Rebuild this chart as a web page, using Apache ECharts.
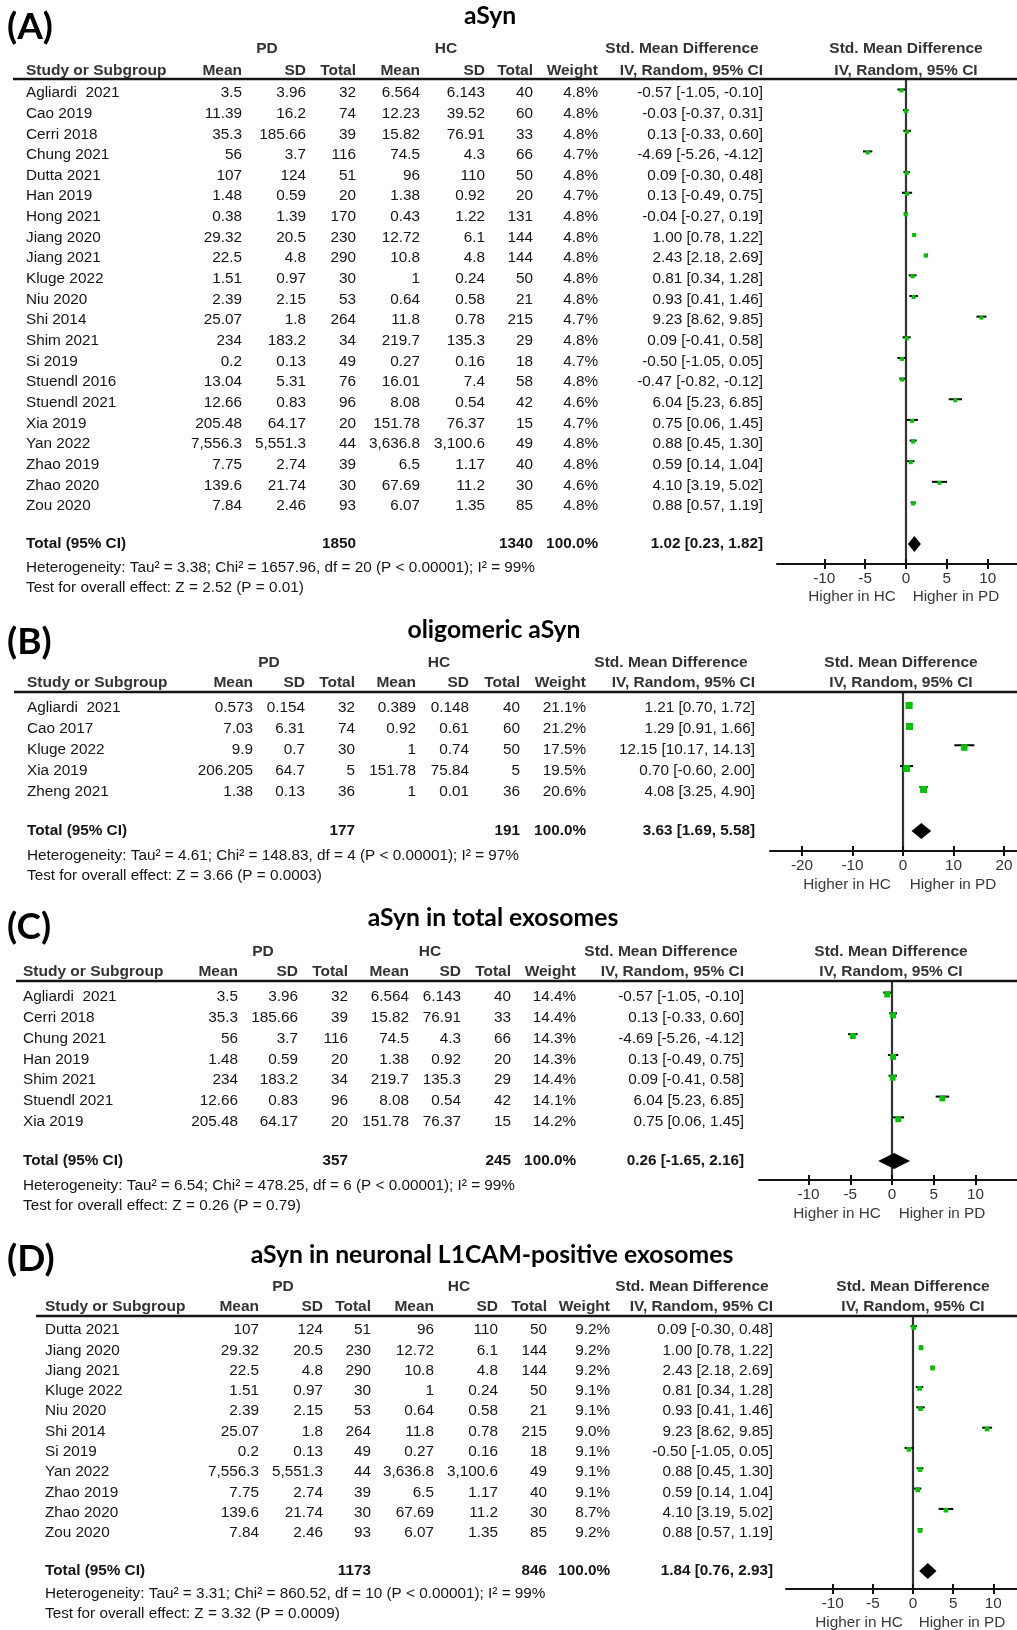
<!DOCTYPE html>
<html><head><meta charset="utf-8">
<script src="https://cdn.jsdelivr.net/npm/echarts@6/dist/echarts.min.js"></script>
<style>html,body{margin:0;padding:0;background:#fff}#c{width:1017px;height:1630px}</style>
</head><body><div id="c"></div>
<script>
// ---------------- DATA ----------------
// Panel A: aSyn
const titleA = 'aSyn';
const studiesA = ['Agliardi  2021','Cao 2019','Cerri 2018','Chung 2021','Dutta 2021','Han 2019','Hong 2021','Jiang 2020','Jiang 2021','Kluge 2022','Niu 2020','Shi 2014','Shim 2021','Si 2019','Stuendl 2016','Stuendl 2021','Xia 2019','Yan 2022','Zhao 2019','Zhao 2020','Zou 2020'];
const pdMeanA = ['3.5','11.39','35.3','56','107','1.48','0.38','29.32','22.5','1.51','2.39','25.07','234','0.2','13.04','12.66','205.48','7,556.3','7.75','139.6','7.84'];
const pdSdA = ['3.96','16.2','185.66','3.7','124','0.59','1.39','20.5','4.8','0.97','2.15','1.8','183.2','0.13','5.31','0.83','64.17','5,551.3','2.74','21.74','2.46'];
const pdNA = [32,74,39,116,51,20,170,230,290,30,53,264,34,49,76,96,20,44,39,30,93];
const hcMeanA = ['6.564','12.23','15.82','74.5','96','1.38','0.43','12.72','10.8','1','0.64','11.8','219.7','0.27','16.01','8.08','151.78','3,636.8','6.5','67.69','6.07'];
const hcSdA = ['6.143','39.52','76.91','4.3','110','0.92','1.22','6.1','4.8','0.24','0.58','0.78','135.3','0.16','7.4','0.54','76.37','3,100.6','1.17','11.2','1.35'];
const hcNA = [40,60,33,66,50,20,131,144,144,50,21,215,29,18,58,42,15,49,40,30,85];
const weightA = [4.8,4.8,4.8,4.7,4.8,4.7,4.8,4.8,4.8,4.8,4.8,4.7,4.8,4.7,4.8,4.6,4.7,4.8,4.8,4.6,4.8];
const smdA = [-0.57,-0.03,0.13,-4.69,0.09,0.13,-0.04,1.00,2.43,0.81,0.93,9.23,0.09,-0.50,-0.47,6.04,0.75,0.88,0.59,4.10,0.88];
const loA = [-1.05,-0.37,-0.33,-5.26,-0.30,-0.49,-0.27,0.78,2.18,0.34,0.41,8.62,-0.41,-1.05,-0.82,5.23,0.06,0.45,0.14,3.19,0.57];
const hiA = [-0.10,0.31,0.60,-4.12,0.48,0.75,0.19,1.22,2.69,1.28,1.46,9.85,0.58,0.05,-0.12,6.85,1.45,1.30,1.04,5.02,1.19];
const totalA = [1850, 1340, 100.0, 1.02, 0.23, 1.82];
const hetA = 'Heterogeneity: Tau² = 3.38; Chi² = 1657.96, df = 20 (P < 0.00001); I² = 99%';
const testA = 'Test for overall effect: Z = 2.52 (P = 0.01)';
const ticksA = [-10, -5, 0, 5, 10];

// Panel B: oligomeric aSyn
const titleB = 'oligomeric aSyn';
const studiesB = ['Agliardi  2021','Cao 2017','Kluge 2022','Xia 2019','Zheng 2021'];
const pdMeanB = ['0.573','7.03','9.9','206.205','1.38'];
const pdSdB = ['0.154','6.31','0.7','64.7','0.13'];
const pdNB = [32,74,30,5,36];
const hcMeanB = ['0.389','0.92','1','151.78','1'];
const hcSdB = ['0.148','0.61','0.74','75.84','0.01'];
const hcNB = [40,60,50,5,36];
const weightB = [21.1,21.2,17.5,19.5,20.6];
const smdB = [1.21,1.29,12.15,0.70,4.08];
const loB = [0.70,0.91,10.17,-0.60,3.25];
const hiB = [1.72,1.66,14.13,2.00,4.90];
const totalB = [177, 191, 100.0, 3.63, 1.69, 5.58];
const hetB = 'Heterogeneity: Tau² = 4.61; Chi² = 148.83, df = 4 (P < 0.00001); I² = 97%';
const testB = 'Test for overall effect: Z = 3.66 (P = 0.0003)';
const ticksB = [-20, -10, 0, 10, 20];

// Panel C: aSyn in total exosomes
const titleC = 'aSyn in total exosomes';
const studiesC = ['Agliardi  2021','Cerri 2018','Chung 2021','Han 2019','Shim 2021','Stuendl 2021','Xia 2019'];
const pdMeanC = ['3.5','35.3','56','1.48','234','12.66','205.48'];
const pdSdC = ['3.96','185.66','3.7','0.59','183.2','0.83','64.17'];
const pdNC = [32,39,116,20,34,96,20];
const hcMeanC = ['6.564','15.82','74.5','1.38','219.7','8.08','151.78'];
const hcSdC = ['6.143','76.91','4.3','0.92','135.3','0.54','76.37'];
const hcNC = [40,33,66,20,29,42,15];
const weightC = [14.4,14.4,14.3,14.3,14.4,14.1,14.2];
const smdC = [-0.57,0.13,-4.69,0.13,0.09,6.04,0.75];
const loC = [-1.05,-0.33,-5.26,-0.49,-0.41,5.23,0.06];
const hiC = [-0.10,0.60,-4.12,0.75,0.58,6.85,1.45];
const totalC = [357, 245, 100.0, 0.26, -1.65, 2.16];
const hetC = 'Heterogeneity: Tau² = 6.54; Chi² = 478.25, df = 6 (P < 0.00001); I² = 99%';
const testC = 'Test for overall effect: Z = 0.26 (P = 0.79)';
const ticksC = [-10, -5, 0, 5, 10];

// Panel D: aSyn in neuronal L1CAM-positive exosomes
const titleD = 'aSyn in neuronal L1CAM-positive exosomes';
const studiesD = ['Dutta 2021','Jiang 2020','Jiang 2021','Kluge 2022','Niu 2020','Shi 2014','Si 2019','Yan 2022','Zhao 2019','Zhao 2020','Zou 2020'];
const pdMeanD = ['107','29.32','22.5','1.51','2.39','25.07','0.2','7,556.3','7.75','139.6','7.84'];
const pdSdD = ['124','20.5','4.8','0.97','2.15','1.8','0.13','5,551.3','2.74','21.74','2.46'];
const pdND = [51,230,290,30,53,264,49,44,39,30,93];
const hcMeanD = ['96','12.72','10.8','1','0.64','11.8','0.27','3,636.8','6.5','67.69','6.07'];
const hcSdD = ['110','6.1','4.8','0.24','0.58','0.78','0.16','3,100.6','1.17','11.2','1.35'];
const hcND = [50,144,144,50,21,215,18,49,40,30,85];
const weightD = [9.2,9.2,9.2,9.1,9.1,9.0,9.1,9.1,9.1,8.7,9.2];
const smdD = [0.09,1.00,2.43,0.81,0.93,9.23,-0.50,0.88,0.59,4.10,0.88];
const loD = [-0.30,0.78,2.18,0.34,0.41,8.62,-1.05,0.45,0.14,3.19,0.57];
const hiD = [0.48,1.22,2.69,1.28,1.46,9.85,0.05,1.30,1.04,5.02,1.19];
const totalD = [1173, 846, 100.0, 1.84, 0.76, 2.93];
const hetD = 'Heterogeneity: Tau² = 3.31; Chi² = 860.52, df = 10 (P < 0.00001); I² = 99%';
const testD = 'Test for overall effect: Z = 3.32 (P = 0.0009)';
const ticksD = [-10, -5, 0, 5, 10];

const headerCols = ['Study or Subgroup','Mean','SD','Total','Mean','SD','Total','Weight','IV, Random, 95% CI'];

// ---------------- LAYOUT ----------------
const W = 1017;
const layouts = [
 {label:'(A)', labelY:27, titleX:490, titleY:16, h1Y:49, h2Y:71, pdX:267, hcX:446, smdX:682, plotX:906, lineY:79, lineX0:13,
  cols:[26,242,306,356,420,485,533,598,763], row0:93, step:20.65, totalY:544, hetY:568, testY:588,
  axisLeft:777, zeroX:906, ppu:8.17, axisY:564, hcLabX:852, pdLabX:956, higherY:597},
 {label:'(B)', labelY:642, titleX:494, titleY:630, h1Y:663, h2Y:683, pdX:269, hcX:439, smdX:671, plotX:901, lineY:692, lineX0:14,
  cols:[27,253,305,355,416,469,520,586,755], row0:708, step:21, totalY:831, hetY:856, testY:876,
  axisLeft:770, zeroX:903, ppu:5.05, axisY:851, hcLabX:847, pdLabX:953, higherY:885},
 {label:'(C)', labelY:927, titleX:493, titleY:918, h1Y:952, h2Y:972, pdX:263, hcX:430, smdX:661, plotX:891, lineY:981, lineX0:16,
  cols:[23,238,298,348,409,461,511,576,744], row0:997, step:20.8, totalY:1161, hetY:1186, testY:1206,
  axisLeft:759, zeroX:892, ppu:8.35, axisY:1180, hcLabX:837, pdLabX:942, higherY:1214},
 {label:'(D)', labelY:1259, titleX:492, titleY:1255, h1Y:1287, h2Y:1307, pdX:283, hcX:459, smdX:692, plotX:913, lineY:1316, lineX0:36,
  cols:[45,259,323,371,434,498,547,610,773], row0:1330, step:20.3, totalY:1571, hetY:1594, testY:1614,
  axisLeft:786, zeroX:913, ppu:8.03, axisY:1589, hcLabX:859, pdLabX:962, higherY:1623}
];

const panels = [
 {title:titleA, studies:studiesA, pdMean:pdMeanA, pdSd:pdSdA, pdN:pdNA, hcMean:hcMeanA, hcSd:hcSdA, hcN:hcNA, weight:weightA, smd:smdA, lo:loA, hi:hiA, total:totalA, het:hetA, test:testA, ticks:ticksA},
 {title:titleB, studies:studiesB, pdMean:pdMeanB, pdSd:pdSdB, pdN:pdNB, hcMean:hcMeanB, hcSd:hcSdB, hcN:hcNB, weight:weightB, smd:smdB, lo:loB, hi:hiB, total:totalB, het:hetB, test:testB, ticks:ticksB},
 {title:titleC, studies:studiesC, pdMean:pdMeanC, pdSd:pdSdC, pdN:pdNC, hcMean:hcMeanC, hcSd:hcSdC, hcN:hcNC, weight:weightC, smd:smdC, lo:loC, hi:hiC, total:totalC, het:hetC, test:testC, ticks:ticksC},
 {title:titleD, studies:studiesD, pdMean:pdMeanD, pdSd:pdSdD, pdN:pdND, hcMean:hcMeanD, hcSd:hcSdD, hcN:hcND, weight:weightD, smd:smdD, lo:loD, hi:hiD, total:totalD, het:hetD, test:testD, ticks:ticksD}
];

const FONT = '"Liberation Sans", Arial, sans-serif';
const TITLE_FONT = 'Lato, "Liberation Sans", sans-serif';
const fmt = v => (v < 0 ? '-' : '') + Math.abs(v).toFixed(2);
const fmtCI = (m, l, h) => fmt(m) + ' [' + fmt(l) + ', ' + fmt(h) + ']';

const grids = [], xAxes = [], yAxes = [], series = [], graphics = [];

function txt(text, x, y, font, align, fill) {
  return {type:'text', silent:true, style:{text, x, y, font, align:align||'left', verticalAlign:'middle', fill:fill||'#151515'}};
}

panels.forEach((d, idx) => {
  const L = layouts[idx];
  const n = d.studies.length;
  const totalRow = (L.totalY - L.row0) / L.step;
  const xmin = (L.axisLeft - L.zeroX) / L.ppu, xmax = (W - L.zeroX) / L.ppu;
  grids.push({left:L.axisLeft, top:L.lineY, width:W - L.axisLeft, height:L.axisY - L.lineY});
  const labelStyle = {customValues:d.ticks, margin:7, color:'#333', fontSize:15.3, fontFamily:FONT};
  xAxes.push({type:'value', gridIndex:idx, min:xmin, max:xmax, position:'bottom',
    axisLine:{show:true, onZero:false, lineStyle:{color:'#111', width:2}},
    axisTick:{show:true, customValues:d.ticks, length:5, lineStyle:{color:'#111', width:2}},
    axisLabel:labelStyle, splitLine:{show:false}});
  xAxes.push({type:'value', gridIndex:idx, min:xmin, max:xmax, position:'bottom',
    axisLine:{show:false, onZero:false},
    axisTick:{show:true, inside:true, customValues:d.ticks, length:5, lineStyle:{color:'#111', width:2}},
    axisLabel:{show:false}, splitLine:{show:false}});
  yAxes.push({type:'value', gridIndex:idx, inverse:true,
    min:(L.lineY - L.row0) / L.step, max:(L.axisY - L.row0) / L.step,
    axisLine:{show:true, onZero:true, onZeroAxisIndex:idx*2, lineStyle:{color:'#333', width:2.2}},
    axisTick:{show:false}, axisLabel:{show:false}, splitLine:{show:false}});

  // CI lines + weighted squares
  series.push({type:'custom', name:'studies'+idx, xAxisIndex:idx*2, yAxisIndex:idx, z:5, silent:true,
    data:d.smd.map((v, i) => [v, i, d.lo[i], d.hi[i], d.weight[i]]),
    renderItem:(params, api) => {
      const row = api.value(1);
      const c = api.coord([api.value(0), row]);
      const l = api.coord([api.value(2), row]);
      const h = api.coord([api.value(3), row]);
      const s = Math.max(4, 1.55 * Math.sqrt(api.value(4)));
      const cy = c[1] - 2.5;
      const ly = cy - s / 2 + 1;
      return {type:'group', children:[
        {type:'line', shape:{x1:l[0], y1:ly, x2:h[0], y2:ly}, style:{stroke:'#000', lineWidth:2}},
        {type:'rect', shape:{x:c[0] - s / 2, y:cy - s / 2, width:s, height:s}, style:{fill:'#00c400'}}
      ]};
    }});

  // Overall diamond
  series.push({type:'custom', name:'total'+idx, xAxisIndex:idx*2, yAxisIndex:idx, z:6, silent:true,
    data:[[d.total[3], totalRow, d.total[4], d.total[5]]],
    renderItem:(params, api) => {
      const row = api.value(1);
      const c = api.coord([api.value(0), row]);
      const l = api.coord([api.value(2), row]);
      const h = api.coord([api.value(3), row]);
      const hh = 8;
      return {type:'polygon', shape:{points:[[l[0], c[1]], [c[0], c[1] - hh], [h[0], c[1]], [c[0], c[1] + hh]]}, style:{fill:'#000'}};
    }});

  // Table text, row positions from the same y scale
  const rows = d.studies.map((s, i) => [0, i]).concat([[0, totalRow]]);
  series.push({type:'custom', name:'table'+idx, xAxisIndex:idx*2, yAxisIndex:idx, z:4, silent:true, clip:false,
    data:rows,
    renderItem:(params, api) => {
      const i = params.dataIndex;
      const y = api.coord([0, api.value(1)])[1];
      const isTot = i === n;
      const vals = isTot
        ? ['Total (95% CI)', '', '', String(d.total[0]), '', '', String(d.total[1]), d.total[2].toFixed(1) + '%', fmtCI(d.total[3], d.total[4], d.total[5])]
        : [d.studies[i], d.pdMean[i], d.pdSd[i], String(d.pdN[i]), d.hcMean[i], d.hcSd[i], String(d.hcN[i]), d.weight[i].toFixed(1) + '%', fmtCI(d.smd[i], d.lo[i], d.hi[i])];
      const font = (isTot ? 'bold 15.3px ' : '15.3px ') + FONT;
      return {type:'group', children:vals.map((t, j) => ({type:'text',
        style:{text:t, x:L.cols[j], y:y, align:j === 0 ? 'left' : 'right', verticalAlign:'middle', font:font, fill:'#151515'}}))};
    }});

  // Static texts
  const HF = 'bold 15.5px ' + FONT;
  graphics.push(txt(L.label, 7, L.labelY, 'bold 37px ' + TITLE_FONT, 'left', '#000'));
  graphics.push(txt(d.title, L.titleX, L.titleY, 'bold 24.7px ' + TITLE_FONT, 'center', '#000'));
  graphics.push(txt('PD', L.pdX, L.h1Y, HF, 'center', '#333'));
  graphics.push(txt('HC', L.hcX, L.h1Y, HF, 'center', '#333'));
  graphics.push(txt('Std. Mean Difference', L.smdX, L.h1Y, HF, 'center', '#333'));
  graphics.push(txt('Std. Mean Difference', L.plotX, L.h1Y, HF, 'center', '#333'));
  headerCols.forEach((h, j) => graphics.push(txt(h, L.cols[j], L.h2Y, HF, j === 0 ? 'left' : 'right', '#333')));
  graphics.push(txt('IV, Random, 95% CI', L.plotX, L.h2Y, HF, 'center', '#333'));
  graphics.push({type:'line', silent:true, z:10, shape:{x1:L.lineX0, y1:L.lineY, x2:W, y2:L.lineY}, style:{stroke:'#151515', lineWidth:2.6}});
  graphics.push(txt(d.het, L.cols[0], L.hetY, '15.3px ' + FONT, 'left', '#151515'));
  graphics.push(txt(d.test, L.cols[0], L.testY, '15.3px ' + FONT, 'left', '#151515'));
  graphics.push(txt('Higher in HC', L.hcLabX, L.higherY, '15.3px ' + FONT, 'center', '#3a3a3a'));
  graphics.push(txt('Higher in PD', L.pdLabX, L.higherY, '15.3px ' + FONT, 'center', '#3a3a3a'));
});

const chart = echarts.init(document.getElementById('c'), null, {renderer:'canvas', width:1017, height:1630});
chart.setOption({
  animation:false,
  backgroundColor:'#fff',
  grid:grids, xAxis:xAxes, yAxis:yAxes, series:series,
  graphic:{elements:graphics}
});
</script></body></html>
